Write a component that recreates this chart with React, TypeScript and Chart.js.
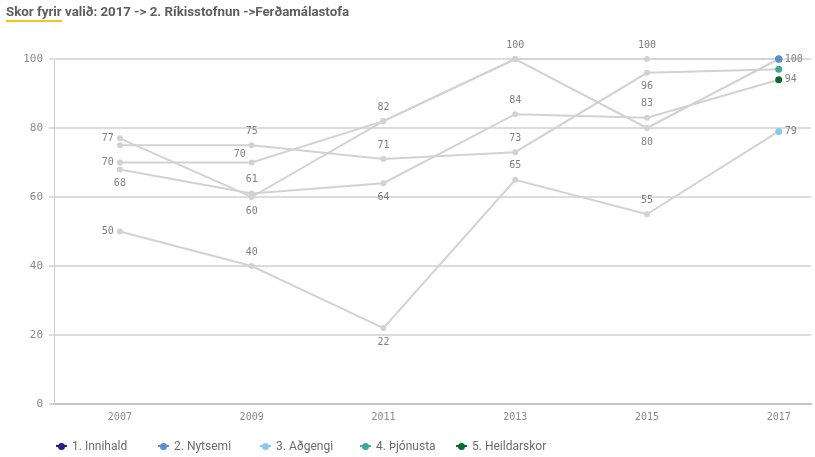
import React, { useEffect, useRef } from "react";
import { Chart, registerables } from "chart.js";

Chart.register(...registerables);

const years = [2007, 2009, 2011, 2013, 2015, 2017];
const innihald = [70, 70, 82, 100, 100, 100];
const nytsemi = [77, 60, 82, 100, 80, 100];
const adgengi = [50, 40, 22, 65, 55, 79];
const thjonusta = [75, 75, 71, 73, 96, 97];
const heildarskor = [68, 61, 64, 84, 83, 94];
const seriesNames = ["1. Innihald", "2. Nytsemi", "3. Aðgengi", "4. Þjónusta", "5. Heildarskor"];
const seriesColors = ["#2a1e86", "#5b8ecf", "#86cbef", "#3fa89a", "#0b6b2c"];
const yTicks = [0, 20, 40, 60, 80, 100];
const titleLead = "Skor fyrir";
const titleRest = " valið: 2017 -> 2. Ríkisstofnun ->Ferðamálastofa";

// label placement per point: a=above, b=below, l=left, al=above-left, r=right, ""=hidden
const labelPlacement = [
  ["l", "al", "a", "a", "a", ""],
  ["l", "b", "", "", "b", "r"],
  ["l", "a", "b", "a", "a", "r"],
  ["", "a", "a", "a", "b", ""],
  ["b", "a", "b", "a", "a", "r"],
];

const GRAY = "#d2d2d2";
const MONO = "'DejaVu Sans Mono', monospace";

const labelPlugin = {
  id: "pointLabels",
  afterDatasetsDraw(chart: any) {
    const ctx = chart.ctx;
    ctx.save();
    ctx.font = `10px ${MONO}`;
    ctx.fillStyle = "#7f7f7f";
    chart.data.datasets.forEach((ds: any, di: number) => {
      const meta = chart.getDatasetMeta(di);
      meta.data.forEach((pt: any, i: number) => {
        const pos = labelPlacement[di][i];
        if (!pos) return;
        const txt = String(ds.data[i].y);
        let x = pt.x;
        let y = pt.y;
        ctx.textBaseline = "middle";
        if (pos === "a") { ctx.textAlign = "center"; y -= 14; }
        else if (pos === "b") { ctx.textAlign = "center"; y += 14; }
        else if (pos === "l") { ctx.textAlign = "right"; x -= 6; }
        else if (pos === "r") { ctx.textAlign = "left"; x += 6; }
        else if (pos === "al") { ctx.textAlign = "center"; x -= 12; y -= 8; }
        ctx.fillText(txt, x, y);
      });
    });
    ctx.restore();
  },
};

export default function App() {
  const ref = useRef<HTMLCanvasElement | null>(null);

  useEffect(() => {
    if (!ref.current) return;
    const all = [innihald, nytsemi, adgengi, thjonusta, heildarskor];
    const last = years.length - 1;
    const datasets = all.map((vals, si) => ({
      label: seriesNames[si],
      data: vals.map((v, i) => ({ x: years[i], y: v })),
      borderColor: GRAY,
      borderWidth: 2,
      pointRadius: (c: any) => (c.dataIndex === last ? 3.5 : 3),
      pointBackgroundColor: (c: any) => (c.dataIndex === last ? seriesColors[si] : GRAY),
      pointBorderColor: (c: any) => (c.dataIndex === last ? seriesColors[si] : GRAY),
      pointBorderWidth: 0,
      tension: 0,
      order: si === 1 ? 0 : si + 1,
    }));
    const chart = new Chart(ref.current, {
      type: "line",
      data: { datasets },
      plugins: [labelPlugin],
      options: {
        animation: false,
        responsive: true,
        maintainAspectRatio: false,
        clip: false as any,
        layout: { padding: { top: 59, right: 0, bottom: 0, left: 0 } },
        plugins: { legend: { display: false }, tooltip: { enabled: false }, title: { display: false } },
        scales: {
          x: {
            type: "linear",
            min: 2006,
            max: 2017.49,
            afterBuildTicks: (s: any) => { s.ticks = years.map((v) => ({ value: v })); },
            afterFit: (s: any) => { s.height = 53; },
            grid: { display: false, drawTicks: false },
            border: { display: true, color: "#c4c4c4", width: 2 },
            ticks: {
              padding: 7,
              color: "#8a8a8a",
              font: { family: MONO, size: 10 },
              callback: (v: any) => String(v),
              maxRotation: 0,
              autoSkip: false,
            },
          },
          y: {
            min: 0,
            max: 100,
            afterBuildTicks: (s: any) => { s.ticks = yTicks.map((v) => ({ value: v })); },
            afterFit: (s: any) => { s.width = 54; },
            grid: { color: "#dcdcdc", lineWidth: 2, tickLength: 5, drawTicks: true },
            border: { display: true, color: "#d0d0d0", width: 1 },
            ticks: {
              padding: 6,
              color: "#8a8a8a",
              font: { family: MONO, size: 11 },
            },
          },
        },
      },
    });
    return () => chart.destroy();
  }, []);

  const legendLeft = [56, 158, 260, 360, 456];

  return (
    <div style={{ position: "fixed", left: 0, top: 0, width: 815, height: 457, background: "#fff", overflow: "hidden" }}>
      <canvas ref={ref} style={{ position: "absolute", left: 0, top: 0, width: 815, height: 457 }} />
      <div
        style={{
          position: "absolute",
          left: 6,
          top: 3,
          fontFamily: "Roboto, 'Noto Sans', sans-serif",
          fontWeight: 700,
          fontSize: 13.3,
          color: "#5e5e5e",
          whiteSpace: "nowrap",
          lineHeight: "17px",
        }}
      >
        <span style={{ borderBottom: "2px solid #f0c419", paddingBottom: 1 }}>{titleLead}</span>
        <span>{titleRest}</span>
      </div>
      {seriesNames.map((n, i) => (
        <div
          key={n}
          style={{
            position: "absolute",
            left: legendLeft[i],
            top: 439,
            height: 14,
            display: "flex",
            alignItems: "center",
            fontFamily: "Roboto, sans-serif",
            fontSize: 12,
            color: "#6b6b6b",
            whiteSpace: "nowrap",
          }}
        >
          <span style={{ position: "relative", width: 11, height: 7, marginRight: 5, display: "inline-block" }}>
            <span style={{ position: "absolute", left: 0, top: 2.5, width: 11, height: 2, background: seriesColors[i] }} />
            <span style={{ position: "absolute", left: 2, top: 0, width: 7, height: 7, borderRadius: "50%", background: seriesColors[i] }} />
          </span>
          {n}
        </div>
      ))}
    </div>
  );
}
